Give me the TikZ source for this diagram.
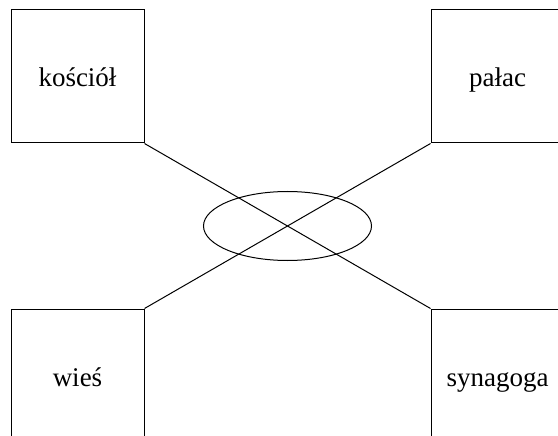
\documentclass[tikz,border=0pt]{standalone}
\usepackage{fontspec}
\setmainfont{Liberation Serif}
\usetikzlibrary{shapes.geometric}
\begin{document}
\begin{tikzpicture}[x=1pt,y=-1pt,
  box/.style={draw, line width=1pt, minimum width=133pt, minimum height=133pt, inner sep=0pt, text height=21pt, text depth=0pt, font=\fontsize{27}{31}\selectfont},
  hub/.style={draw, ellipse, line width=1pt, minimum width=168pt, minimum height=69pt, inner sep=0pt},
  link/.style={line width=1pt}]
\useasboundingbox (0,0) rectangle (558,436);
\node[box] (k) at (77.5,76.5) {kościół};
\node[box] (p) at (497.5,76.5) {pałac};
\node[box] (w) at (77.5,375.5) {wieś};
\node[box] (s) at (497.5,375.5) {synagoga};
\node[hub] (e) at (287.5,226) {};
\draw[link] (k.south east) -- (s.north west);
\draw[link] (p.south west) -- (w.north east);
\end{tikzpicture}
\end{document}
